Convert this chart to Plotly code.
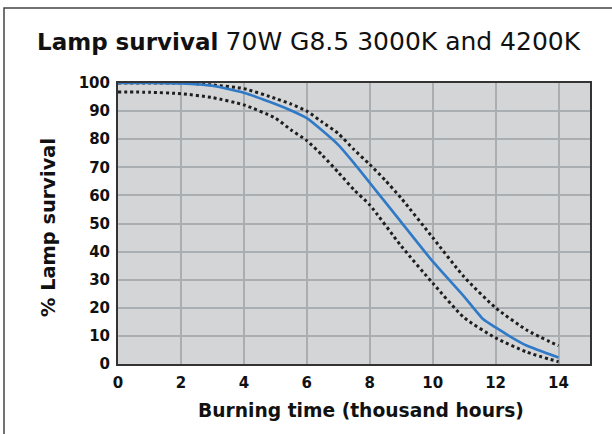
import plotly.graph_objects as go

# Data
hours_mid = [0, 1, 2, 3, 4, 5, 5.5, 6, 6.5, 7, 7.5, 8, 8.5, 9, 10, 11, 11.6, 12, 12.8, 13, 14]
survival_mid = [100, 100, 99.8, 99.0, 96.5, 92.5, 90.2, 87.5, 83, 78, 71.5, 64.5, 57.5, 50.5, 36.5, 24, 16, 13, 7.6, 6.5, 2.3]

hours_upper = [0, 1, 2, 3, 4, 5, 5.5, 6, 6.5, 7, 7.5, 8, 8.5, 9, 10, 11, 12, 13, 14]
survival_upper = [100, 100, 100, 99.3, 98, 94.5, 92.5, 90, 86, 82, 76.3, 71, 65.3, 59, 45, 31, 20, 12, 6.5]

hours_lower = [0, 1, 2, 3, 4, 5, 5.5, 6, 6.5, 7, 7.5, 8, 9, 10, 11, 12, 13, 14]
survival_lower = [96.8, 96.7, 96.2, 94.8, 92.2, 87.5, 83.3, 79.5, 74.2, 68.2, 62, 56.6, 42, 28.8, 16.5, 9.3, 4.2, 0.8]

x_ticks = [0, 2, 4, 6, 8, 10, 12, 14]
y_ticks = [0, 10, 20, 30, 40, 50, 60, 70, 80, 90, 100]

FONT = "DejaVu Sans"

fig = go.Figure()
fig.add_trace(go.Scatter(x=hours_upper, y=survival_upper, mode="lines",
                         line=dict(color="#1e1e1e", width=3, dash="dot", shape="spline", smoothing=0.6),
                         showlegend=False, hoverinfo="skip"))
fig.add_trace(go.Scatter(x=hours_lower, y=survival_lower, mode="lines",
                         line=dict(color="#1e1e1e", width=3, dash="dot", shape="spline", smoothing=0.6),
                         showlegend=False, hoverinfo="skip"))
fig.add_trace(go.Scatter(x=hours_mid, y=survival_mid, mode="lines",
                         line=dict(color="#2f79c6", width=2.6, shape="spline", smoothing=0.5),
                         showlegend=False))

W, H = 612, 434
L, R, T, B = 118, 22, 83, 70
pw, ph = W - L - R, H - T - B

def px(x):
    return (x - L) / pw

def py(y):
    return (H - B - y) / ph

fig.update_layout(
    template="none",
    width=W, height=H,
    margin=dict(l=L, r=R, t=T, b=B, autoexpand=False),
    paper_bgcolor="white",
    plot_bgcolor="#d4d5d7",
    font=dict(family=FONT, color="#111111"),
    xaxis=dict(range=[0, 15], tickvals=x_ticks, ticktext=["<b>%d</b>" % v for v in x_ticks],
               showgrid=True, gridcolor="#a9aeb3", gridwidth=1.5, automargin=False,
               showline=True, linecolor="#333333", linewidth=2, mirror=True,
               zeroline=False, ticks="", ticklen=0, ticklabelstandoff=4,
               tickfont=dict(size=15, family=FONT, color="#111111")),
    yaxis=dict(range=[0, 100], tickvals=y_ticks, ticktext=["<b>%d</b>" % v for v in y_ticks],
               showgrid=True, gridcolor="#a9aeb3", gridwidth=1.5, automargin=False,
               showline=True, linecolor="#333333", linewidth=2, mirror=True,
               zeroline=False, ticks="", ticklen=0, ticklabelstandoff=3,
               tickfont=dict(size=15, family=FONT, color="#111111")),
    annotations=[
        dict(text="<b>Lamp survival</b> <span style='font-size:25px'>70W G8.5 3000K and 4200K</span>",
             xref="paper", yref="paper", x=px(35), y=py(41), xanchor="left", yanchor="middle",
             showarrow=False, font=dict(size=23, family=FONT, color="#111111")),
        dict(text="<b>Burning time (thousand hours)</b>",
             xref="paper", yref="paper", x=px(361), y=py(410), xanchor="center", yanchor="middle",
             showarrow=False, font=dict(size=18.7, family=FONT, color="#111111")),
        dict(text="<b>% Lamp survival</b>", textangle=-90,
             xref="paper", yref="paper", x=px(48), y=py(228), xanchor="center", yanchor="middle",
             showarrow=False, font=dict(size=19.4, family=FONT, color="#111111")),
    ],
    shapes=[
        dict(type="rect", xref="paper", yref="paper", x0=px(4), x1=px(640), y0=py(8), y1=py(460),
             line=dict(color="#444444", width=1.5), fillcolor="rgba(0,0,0,0)", layer="above"),
    ],
)

fig.write_html("out.html", config={"displayModeBar": False},
               post_script="document.body.style.margin='0';document.body.style.padding='0';")
